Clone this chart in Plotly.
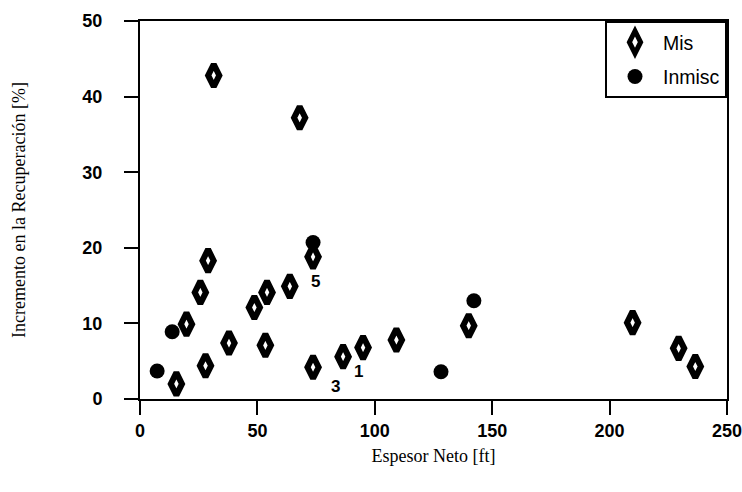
import plotly.graph_objects as go

# Data
mis_x = [15.5, 19.8, 25.7, 27.9, 29.0, 31.4, 37.9, 48.7, 53.4, 54.1, 63.8, 68.0,
         73.7, 73.7, 86.5, 95.0, 109.2, 140.0, 209.8, 229.4, 236.5]
mis_y = [2.0, 9.9, 14.1, 4.4, 18.3, 42.8, 7.4, 12.1, 7.1, 14.1, 14.9, 37.2,
         18.8, 4.2, 5.6, 6.8, 7.8, 9.7, 10.1, 6.7, 4.3]
inm_x = [7.3, 13.7, 73.7, 128.2, 142.2]
inm_y = [3.7, 8.9, 20.7, 3.6, 13.0]
lab_text = ["5", "3", "1"]
lab_x = [74.7, 83.2, 93.1]
lab_y = [15.5, 1.6, 3.7]
x_ticks = [0, 50, 100, 150, 200, 250]
y_ticks = [0, 10, 20, 30, 40, 50]

fig = go.Figure()
fig.add_trace(go.Scatter(
    x=mis_x, y=mis_y, mode="markers", name="Mis", legendgroup="a",
    marker=dict(symbol="diamond-tall", size=16, color="white",
                line=dict(color="black", width=6)),
))
fig.add_trace(go.Scatter(
    x=inm_x, y=inm_y, mode="markers", name="Inmisc", legendgroup="b",
    marker=dict(symbol="circle", size=15, color="black",
                line=dict(color="black", width=0)),
))

for t, x, y in zip(lab_text, lab_x, lab_y):
    fig.add_annotation(x=x, y=y, text=t, showarrow=False,
                       font=dict(family="Liberation Sans, Arial", size=17,
                                 color="black", weight="bold"))

axis_common = dict(
    showline=True, linecolor="black", linewidth=2, mirror=True,
    ticks="outside", ticklen=14, tickwidth=2, tickcolor="black",
    showgrid=False, zeroline=False, ticklabeloverflow="allow",
    tickfont=dict(family="Liberation Sans, Arial", size=18, color="black",
                  weight="bold"),
)

fig.update_xaxes(range=[0, 250], tickvals=x_ticks, **axis_common,
                 title=dict(text="Espesor Neto [ft]", standoff=10,
                            font=dict(family="Liberation Serif, Times New Roman",
                                      size=18, color="black")))
fig.update_yaxes(range=[0, 50], tickvals=y_ticks, ticklabelstandoff=18,
                 **axis_common,
                 title=dict(text="Incremento en la Recuperación [%]", standoff=52,
                            font=dict(family="Liberation Serif, Times New Roman",
                                      size=18, color="black")))

fig.update_layout(
    width=742, height=492,
    margin=dict(l=140, r=15, t=21, b=93, autoexpand=False),
    paper_bgcolor="white", plot_bgcolor="white",
    showlegend=True,
    legend=dict(x=1, y=1, xanchor="right", yanchor="top",
                bordercolor="black", borderwidth=2, bgcolor="white",
                font=dict(family="Liberation Sans, Arial", size=19.5, color="black"),
                itemwidth=46, tracegroupgap=6, traceorder="grouped"),
)

fig.write_html("out.html")
